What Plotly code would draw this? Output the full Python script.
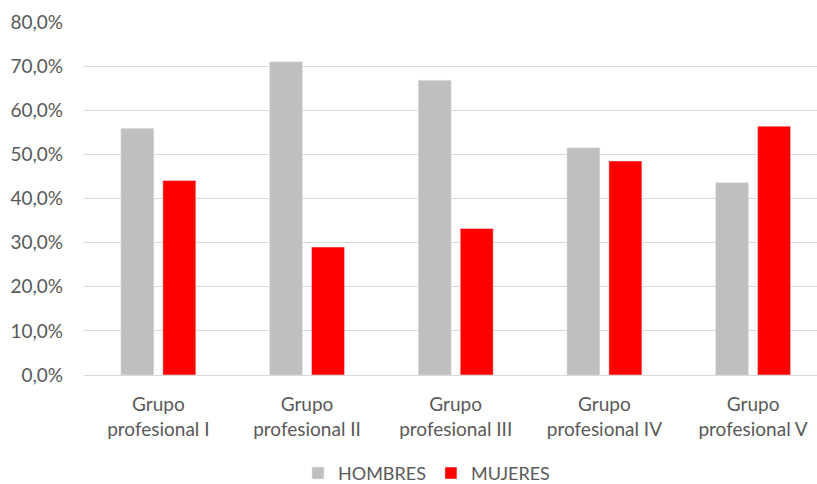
import plotly.graph_objects as go

categories = ["Grupo<br>profesional I", "Grupo<br>profesional II", "Grupo<br>profesional III",
              "Grupo<br>profesional IV", "Grupo<br>profesional V"]
hombres = [55.9, 71.0, 66.8, 51.5, 43.6]
mujeres = [44.1, 29.0, 33.2, 48.5, 56.4]
y_ticks = [0, 10, 20, 30, 40, 50, 60, 70, 80]
y_ticktext = [f"{v:.1f}".replace(".", ",") + "%" for v in y_ticks]

FONT = "Lato, Liberation Sans, Arial, sans-serif"
GRAY_TXT = "#595959"
FS = 19

fig = go.Figure()
fig.add_trace(go.Bar(name="HOMBRES", x=categories, y=hombres, marker_color="#bfbfbf"))
fig.add_trace(go.Bar(name="MUJERES", x=categories, y=mujeres, marker_color="#ff0000"))

fig.update_layout(
    width=817, height=484,
    margin=dict(l=84, r=0, t=22, b=109),
    paper_bgcolor="white", plot_bgcolor="white",
    barmode="group", bargap=0.435, bargroupgap=0.214,
    separators=",.",
    font=dict(family=FONT, size=FS, color=GRAY_TXT),
    legend=dict(orientation="h", xref="container", yref="container",
                x=0.522, y=0.022, xanchor="center", yanchor="middle",
                font=dict(family=FONT, size=18, color=GRAY_TXT),
                traceorder="normal"),
    showlegend=True,
)
fig.update_xaxes(range=[-0.5, 4.43], showline=True, linecolor="#d9d9d9", linewidth=1,
                 ticks="", ticklabelstandoff=12,
                 tickfont=dict(family=FONT, size=FS, color=GRAY_TXT))
fig.update_yaxes(range=[0, 80], tickvals=y_ticks, ticktext=y_ticktext,
                 showgrid=True, gridcolor="#d9d9d9", gridwidth=1, zeroline=False,
                 ticklabelstandoff=20,
                 tickfont=dict(family=FONT, size=FS, color=GRAY_TXT))

fig.write_html("out.html")
